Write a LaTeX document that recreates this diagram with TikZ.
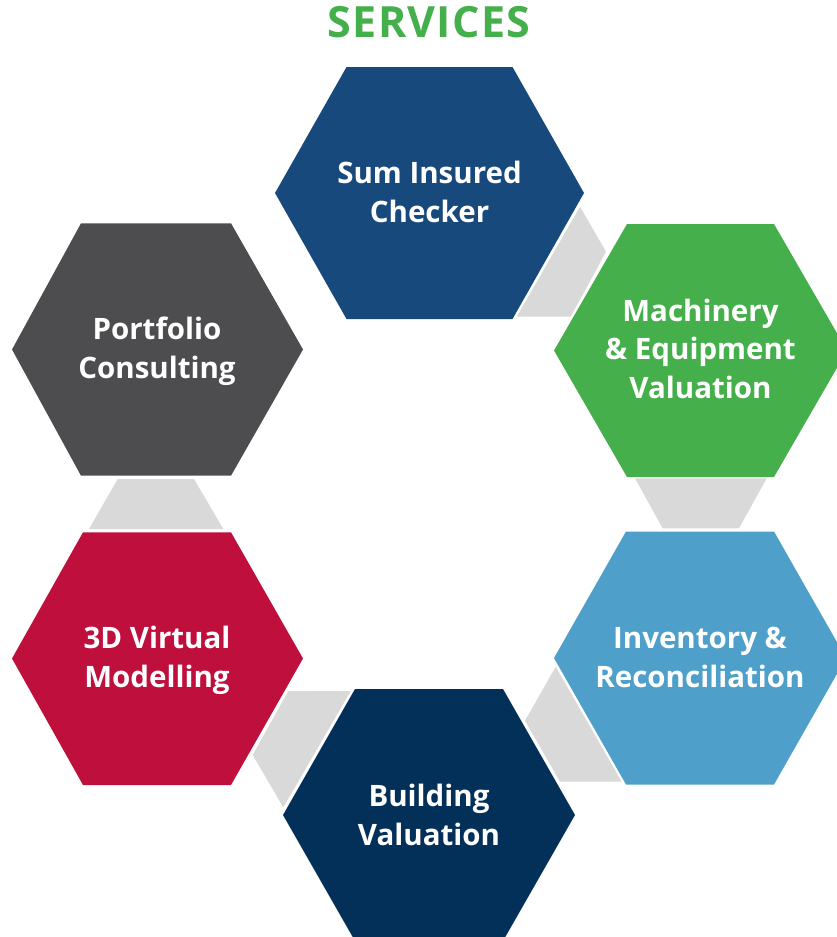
\documentclass[tikz,border=0pt]{standalone}
\usepackage{fontspec}
\setmainfont{Open Sans}
\definecolor{cTop}{HTML}{18497D}
\definecolor{cGreen}{HTML}{45B04B}
\definecolor{cLight}{HTML}{4E9FC9}
\definecolor{cNavy}{HTML}{033058}
\definecolor{cRed}{HTML}{BF0F3D}
\definecolor{cGray}{HTML}{4D4D4F}
\definecolor{cLink}{HTML}{D9D9D9}
\begin{document}
\begin{tikzpicture}[x=1pt,y=-1pt,
  hextext/.style={text=white,font=\bfseries\fontsize{29.5}{38.5}\selectfont,align=center,inner sep=0pt},
  linkbox/.style={fill=cLink}]
\useasboundingbox (0,0) rectangle (836,937);
\fill[white] (0,0) rectangle (836,937);
% title
\node[text=cGreen,font=\bfseries\addfontfeatures{LetterSpace=3}\fontsize{43}{48}\selectfont,inner sep=0pt] (title) at (429,22.5) {SERVICES};
% gray links
\fill[linkbox] (580,206.7) -- (606,251.7) -- (570.7,316.7) -- (516.7,316.7) -- cycle;
\fill[linkbox] (635,478.3) -- (766.7,478.3) -- (739,528.3) -- (662.7,528.3) -- cycle;
\fill[linkbox] (555.7,666.7) -- (621.7,781.7) -- (560,781.7) -- (525,720.7) -- cycle;
\fill[linkbox] (288.3,691) -- (350.7,691) -- (283.3,807.3) -- (252.7,755) -- cycle;
\fill[linkbox] (117.7,479) -- (194,479) -- (223.3,529) -- (89,529) -- cycle;
% hexagons
\fill[cTop] (275,193) -- (346.5,67) -- (512.5,67) -- (584,193) -- (512.5,319) -- (346.5,319) -- cycle;
\fill[cGreen] (554,350.5) -- (627,224) -- (774,224) -- (847,350.5) -- (774,477) -- (627,477) -- cycle;
\fill[cLight] (554,658) -- (626,531.5) -- (774,531.5) -- (846,658) -- (774,784.5) -- (626,784.5) -- cycle;
\fill[cNavy] (283,815) -- (355,689) -- (503,689) -- (575,815) -- (503,941) -- (355,941) -- cycle;
\fill[cRed] (12,658.5) -- (83,532.3) -- (231,532.3) -- (303,658.5) -- (231,785) -- (83,785) -- cycle;
\fill[cGray] (12,349.5) -- (81,223.3) -- (231,223.3) -- (303,349.5) -- (231,475.7) -- (81,475.7) -- cycle;
% labels
\node[hextext] (sum) at (429.5,192) {Sum Insured\\Checker};
\node[hextext] (mach) at (700.5,348.5) {Machinery\\\& Equipment\\Valuation};
\node[hextext] (inv) at (700,657.5) {Inventory \&\\Reconciliation};
\node[hextext] (bld) at (429,815) {Building\\Valuation};
\node[hextext] (vir) at (157,660.5) {3D Virtual\\Modelling};
\node[hextext] (port) at (157,351.5) {Portfolio\\Consulting};
\end{tikzpicture}
\end{document}
